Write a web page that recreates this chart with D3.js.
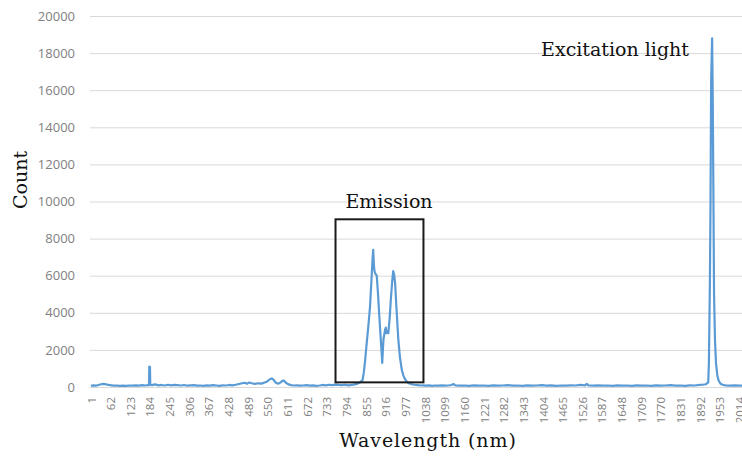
<!DOCTYPE html>
<html>
<head>
<meta charset="utf-8">
<script src="https://cdn.jsdelivr.net/npm/d3@7/dist/d3.min.js"></script>
<style>
  body { margin: 0; background: #fff; }
  svg { display: block; }
</style>
</head>
<body>
<div id="chart"></div>
<script>
// spectrum (channel index on the category axis, count)
var channel = [
  1, 8, 16, 24, 32, 40, 48, 56, 64, 72, 80, 90, 100, 110, 120, 130, 140, 150, 160, 170,
  178, 181, 182, 184, 185, 190, 200, 210, 220, 230, 240, 250, 260, 270, 280, 290, 300, 310, 320, 330,
  340, 350, 360, 370, 380, 390, 400, 410, 420, 430, 440, 450, 460, 470, 478, 485, 492, 500, 510, 520,
  530, 540, 548, 556, 562, 568, 575, 582, 590, 596, 600, 606, 614, 622, 630, 640, 650, 660, 670, 680,
  690, 700, 710, 720, 730, 740, 750, 760, 770, 780, 790, 800, 810, 820, 828, 836, 844, 848, 852, 857,
  862, 867, 872, 875, 877, 879, 881, 884, 888, 892, 896, 900, 903, 905, 907, 909, 912, 914, 916, 918,
  921, 924, 928, 932, 936, 939, 942, 945, 949, 955, 960, 966, 971, 976, 981, 988, 996, 1005, 1015, 1025,
  1030, 1040, 1050, 1060, 1070, 1080, 1090, 1100, 1110, 1120, 1126, 1132, 1145, 1160, 1175, 1190, 1205, 1220, 1235, 1250,
  1265, 1280, 1295, 1310, 1325, 1340, 1355, 1370, 1385, 1400, 1415, 1430, 1445, 1460, 1475, 1490, 1505, 1520, 1535, 1540,
  1545, 1560, 1575, 1590, 1605, 1620, 1635, 1650, 1665, 1680, 1695, 1710, 1725, 1740, 1755, 1770, 1785, 1800, 1815, 1830,
  1845, 1860, 1875, 1890, 1900, 1910, 1917, 1919, 1922, 1924, 1926, 1929, 1931, 1933, 1935, 1938, 1941, 1945, 1949, 1955,
  1962, 1970, 1985, 2000, 2015, 2030, 2048
];
var counts = [
  60, 90, 70, 110, 150, 170, 140, 110, 90, 70, 80, 60, 70, 60, 80, 70, 90, 70, 100, 80,
  110, 90, 1100, 1080, 120, 100, 140, 90, 110, 80, 120, 90, 110, 100, 80, 110, 70, 90, 100, 70,
  80, 60, 90, 70, 100, 80, 60, 90, 80, 110, 90, 120, 160, 200, 230, 180, 240, 200, 170, 200,
  180, 240, 300, 420, 460, 380, 230, 180, 250, 350, 340, 230, 140, 100, 80, 90, 70, 80, 100, 70,
  90, 60, 80, 110, 90, 120, 100, 130, 110, 100, 120, 90, 110, 140, 180, 250, 380, 800, 1450, 2400,
  3300, 4300, 5900, 6900, 7400, 6600, 6250, 6100, 6000, 5000, 3800, 2700, 1900, 1300, 2000, 2600, 2900, 3100, 3200, 2900,
  3000, 2900, 3700, 4800, 5700, 6250, 6050, 5600, 4300, 2550, 1600, 900, 600, 420, 290, 200, 150, 120, 100, 80,
  90, 70, 90, 60, 80, 70, 90, 70, 80, 110, 160, 90, 70, 80, 60, 90, 70, 80, 60, 90,
  70, 80, 100, 70, 80, 60, 90, 70, 80, 100, 70, 90, 60, 80, 70, 90, 80, 110, 90, 170,
  90, 70, 90, 70, 80, 60, 90, 70, 80, 60, 90, 70, 80, 60, 90, 70, 80, 100, 70, 80,
  60, 90, 80, 110, 120, 150, 250, 1300, 5500, 9800, 16500, 18800, 15500, 10300, 5000, 2500, 1300, 650, 350, 180,
  120, 90, 70, 90, 70, 80, 60
];
var yTicks = [0, 2000, 4000, 6000, 8000, 10000, 12000, 14000, 16000, 18000, 20000];
var xTickLabels = [1, 62, 123, 184, 245, 306, 367, 428, 489, 550, 611, 672, 733, 794, 855, 916, 977,
  1038, 1099, 1160, 1221, 1282, 1343, 1404, 1465, 1526, 1587, 1648, 1709, 1770, 1831, 1892, 1953, 2014];
// emission box: channel from, channel to, count from, count to
var emissionBox = [760, 1033, 250, 9040];

var W = 742, H = 456;
var pad = {l: 90, r: 742, t: 16, b: 387};

var svg = d3.select('#chart').append('svg')
    .attr('width', W)
    .attr('height', H);

var x = d3.scaleLinear().domain([1, 2014]).range([91, 739.5]);
var y = d3.scaleLinear().domain([0, 20000]).range([pad.b, pad.t]);

// y axis with gridlines
var yAxis = d3.axisLeft(y)
    .tickValues(yTicks)
    .tickSize(-(pad.r - pad.l))
    .tickPadding(15)
    .tickFormat(d3.format('d'));
svg.append('g')
    .attr('transform', 'translate(' + pad.l + ',0)')
    .call(yAxis)
    .call(g => g.select('.domain').remove())
    .call(g => g.selectAll('line').attr('stroke', '#d9d9d9').attr('stroke-width', 1))
    .call(g => g.selectAll('text')
        .attr('fill', '#808080')
        .style('font-family', '"Open Sans", sans-serif')
        .style('font-size', '13px'));

// x axis, rotated labels
var xAxis = d3.axisBottom(x).tickValues(xTickLabels).tickSize(0).tickFormat(d3.format('d'));
svg.append('g')
    .attr('transform', 'translate(0,' + pad.b + ')')
    .call(xAxis)
    .call(g => g.select('.domain').remove())
    .call(g => g.selectAll('text')
        .attr('transform', 'rotate(-90)')
        .attr('x', -10)
        .attr('y', 0)
        .attr('dy', '0.35em')
        .style('text-anchor', 'end')
        .attr('fill', '#808080')
        .style('font-family', '"Open Sans", sans-serif')
        .style('font-size', '11.5px'));

var line = d3.line().x(d => x(d[0])).y(d => y(d[1]));

svg.append('path')
    .datum(d3.zip(channel, counts))
    .attr('d', line)
    .attr('fill', 'none')
    .attr('stroke', '#5b9bd5')
    .attr('stroke-width', 2.2)
    .attr('stroke-linejoin', 'round');

// emission box
svg.append('rect')
    .attr('x', x(emissionBox[0]))
    .attr('y', y(emissionBox[3]))
    .attr('width', x(emissionBox[1]) - x(emissionBox[0]))
    .attr('height', y(emissionBox[2]) - y(emissionBox[3]))
    .attr('fill', 'none')
    .attr('stroke', '#1a1a1a')
    .attr('stroke-width', 2);

var serif = '"DejaVu Serif", serif';

svg.append('text')
    .attr('x', 389)
    .attr('y', 208)
    .attr('text-anchor', 'middle')
    .style('font-family', serif)
    .style('font-size', '19px')
    .attr('fill', '#111')
    .text('Emission');

svg.append('text')
    .attr('x', 615)
    .attr('y', 56)
    .attr('text-anchor', 'middle')
    .style('font-family', serif)
    .style('font-size', '19px')
    .attr('fill', '#111')
    .text('Excitation light');

svg.append('text')
    .attr('transform', 'translate(27,180) rotate(-90)')
    .attr('text-anchor', 'middle')
    .style('font-family', serif)
    .style('font-size', '19px')
    .attr('fill', '#111')
    .text('Count');

svg.append('text')
    .attr('x', 428)
    .attr('y', 447)
    .attr('text-anchor', 'middle')
    .style('font-family', serif)
    .style('font-size', '19px')
    .style('letter-spacing', '0.9px')
    .attr('fill', '#111')
    .text('Wavelength (nm)');
</script>
</body>
</html>
